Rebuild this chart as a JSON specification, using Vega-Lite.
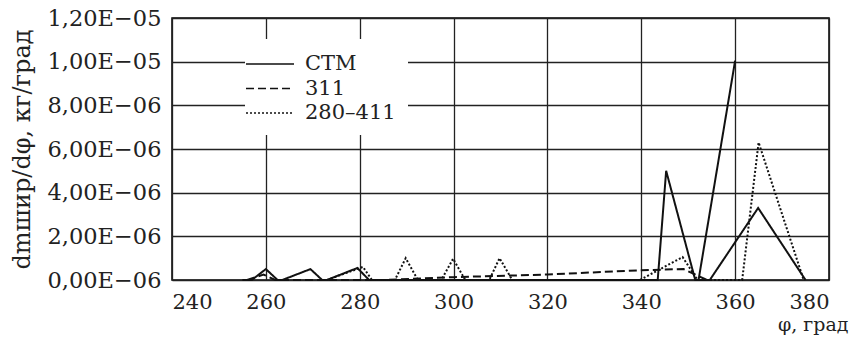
{
  "$schema": "https://vega.github.io/schema/vega-lite/v6.json",
  "autosize": "none",
  "width": 657,
  "height": 262,
  "padding": {"left": 172, "top": 18, "right": 24, "bottom": 60},
  "background": "white",
  "config": {
    "font": "DejaVu Serif",
    "view": {"stroke": "black", "strokeWidth": 1.5},
    "axis": {"gridColor": "#222", "gridWidth": 1.3, "gridOpacity": 1, "domain": false, "ticks": false, "labelFont": "DejaVu Serif", "labelFontSize": 21, "labelColor": "#222", "titleFont": "DejaVu Serif", "titleFontSize": 21, "titleFontWeight": "normal", "titleColor": "#222"},
    "legend": {"labelFont": "DejaVu Serif"}
  },
  "data": {"values": [
    {"phi": 255, "value": 0, "series": "СТМ", "seg": "a"},
    {"phi": 257, "value": 0, "series": "СТМ", "seg": "a"},
    {"phi": 260, "value": 5e-7, "series": "СТМ", "seg": "a"},
    {"phi": 262.5, "value": 0, "series": "СТМ", "seg": "a"},
    {"phi": 263.5, "value": 0, "series": "СТМ", "seg": "a"},
    {"phi": 269.5, "value": 5e-7, "series": "СТМ", "seg": "a"},
    {"phi": 272, "value": 0, "series": "СТМ", "seg": "a"},
    {"phi": 273, "value": 0, "series": "СТМ", "seg": "a"},
    {"phi": 279.5, "value": 5.5e-7, "series": "СТМ", "seg": "a"},
    {"phi": 282, "value": 0, "series": "СТМ", "seg": "a"},
    {"phi": 343.5, "value": 0, "series": "СТМ", "seg": "a"},
    {"phi": 345.3, "value": 5e-6, "series": "СТМ", "seg": "a"},
    {"phi": 351.5, "value": 0, "series": "СТМ", "seg": "a"},
    {"phi": 354.6, "value": 0, "series": "СТМ", "seg": "a"},
    {"phi": 364.9, "value": 3.3e-6, "series": "СТМ", "seg": "a"},
    {"phi": 375, "value": 0, "series": "СТМ", "seg": "a"},
    {"phi": 352.2, "value": 0, "series": "СТМ", "seg": "b"},
    {"phi": 360, "value": 1.005e-5, "series": "СТМ", "seg": "b"},
    {"phi": 256, "value": 0, "series": "311", "seg": "a"},
    {"phi": 259.5, "value": 2.5e-7, "series": "311", "seg": "a"},
    {"phi": 262, "value": 0, "series": "311", "seg": "a"},
    {"phi": 285, "value": 0, "series": "311", "seg": "a"},
    {"phi": 300, "value": 1.3e-7, "series": "311", "seg": "a"},
    {"phi": 320, "value": 2.5e-7, "series": "311", "seg": "a"},
    {"phi": 340, "value": 4.5e-7, "series": "311", "seg": "a"},
    {"phi": 349, "value": 5e-7, "series": "311", "seg": "a"},
    {"phi": 354, "value": 0, "series": "311", "seg": "a"},
    {"phi": 273, "value": 0, "series": "280–411", "seg": "a"},
    {"phi": 280.7, "value": 6e-7, "series": "280–411", "seg": "a"},
    {"phi": 282.6, "value": 0, "series": "280–411", "seg": "a"},
    {"phi": 287.5, "value": 0, "series": "280–411", "seg": "a"},
    {"phi": 289.8, "value": 1e-6, "series": "280–411", "seg": "a"},
    {"phi": 292.4, "value": 0, "series": "280–411", "seg": "a"},
    {"phi": 297.4, "value": 0, "series": "280–411", "seg": "a"},
    {"phi": 299.9, "value": 9.7e-7, "series": "280–411", "seg": "a"},
    {"phi": 302.5, "value": 0, "series": "280–411", "seg": "a"},
    {"phi": 307.6, "value": 0, "series": "280–411", "seg": "a"},
    {"phi": 309.8, "value": 1e-6, "series": "280–411", "seg": "a"},
    {"phi": 312.5, "value": 0, "series": "280–411", "seg": "a"},
    {"phi": 339.7, "value": 0, "series": "280–411", "seg": "a"},
    {"phi": 348.8, "value": 1.05e-6, "series": "280–411", "seg": "a"},
    {"phi": 352, "value": 0, "series": "280–411", "seg": "a"},
    {"phi": 361.5, "value": 0, "series": "280–411", "seg": "a"},
    {"phi": 365, "value": 6.3e-6, "series": "280–411", "seg": "a"},
    {"phi": 374.6, "value": 0, "series": "280–411", "seg": "a"}
  ]},
  "mark": {"type": "line", "color": "#111", "strokeWidth": 2},
  "encoding": {
    "x": {"field": "phi", "type": "quantitative",
      "scale": {"domain": [240, 380], "nice": false, "zero": false},
      "axis": {"values": [240, 260, 280, 300, 320, 340, 360, 380], "labelPadding": 11, "title": "φ, град", "titleX": 676, "titleY": 50, "titleAlign": "right", "titleAnchor": null, "titleBaseline": "alphabetic", "titleFontSize": 19}},
    "y": {"field": "value", "type": "quantitative",
      "scale": {"domain": [0, 1.2e-5], "nice": false},
      "axis": {"values": [0, 2e-6, 4e-6, 6e-6, 8e-6, 1e-5, 1.2e-5], "labelPadding": 11, "labelFontSize": 22.5,
        "labelExpr": "datum.value > 9.9e-6 ? replace(format(datum.value * 1e5, '.2f'), '.', ',') + 'E−05' : replace(format(datum.value * 1e6, '.2f'), '.', ',') + 'E−06'",
        "title": "dmшир/dφ, кг/град", "titleX": -150, "titleY": 131, "titleAngle": -90, "titleAlign": "center", "titleBaseline": "middle", "titleAnchor": null, "titleFontSize": 24}},
    "strokeDash": {"field": "series", "type": "nominal",
      "scale": {"domain": ["СТМ", "311", "280–411"], "range": [[1, 0], [8, 4], [2, 2]]},
      "legend": {"title": null, "orient": "none", "legendX": 73, "legendY": 21, "fillColor": "white", "padding": 12, "symbolType": "M-2,0H2", "symbolSize": 576, "symbolStrokeWidth": 1.5, "symbolStrokeColor": "#111", "labelFontSize": 21, "labelColor": "#222", "labelOffset": 22, "rowPadding": 1.5}},
    "detail": {"field": "seg", "type": "nominal"}
  }
}
